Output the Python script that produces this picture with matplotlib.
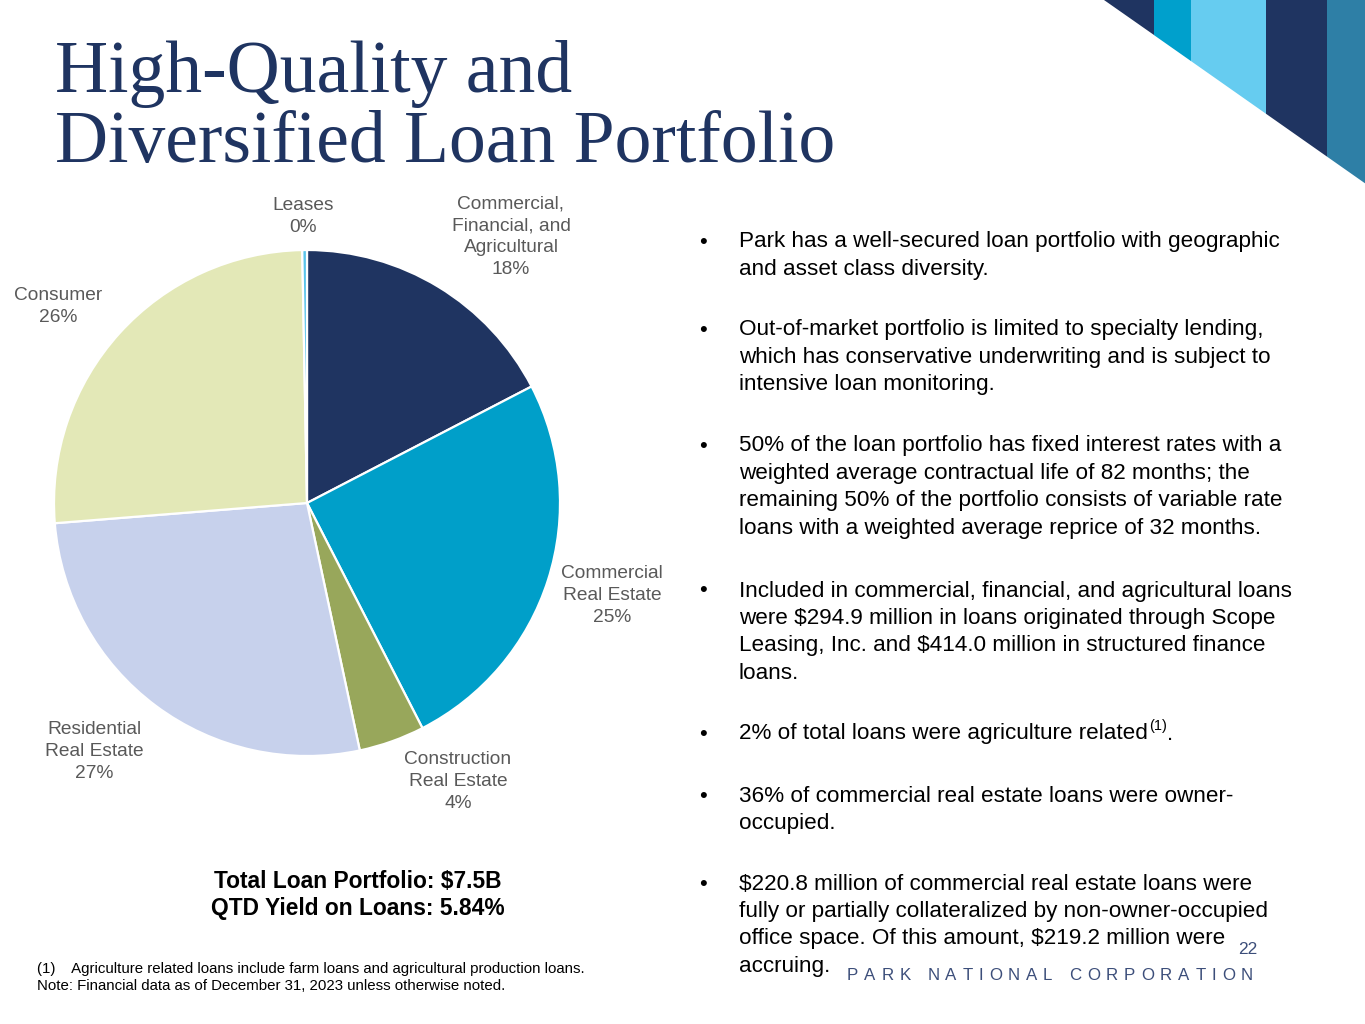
import matplotlib
matplotlib.use("Agg")
import matplotlib.pyplot as plt
from matplotlib.patches import Polygon

W, H = 1365, 1024

# ---------------- data ----------------
categories = ["Commercial, Financial, and Agricultural", "Commercial Real Estate",
              "Construction Real Estate", "Residential Real Estate", "Consumer", "Leases"]
shares = [17.4, 25.1, 4.2, 27.1, 26.0, 0.3]
share_labels = ["18%", "25%", "4%", "27%", "26%", "0%"]
label_lines = [["Commercial,", "Financial, and", "Agricultural"],
               ["Commercial", "Real Estate"],
               ["Construction", "Real Estate"],
               ["Residential", "Real Estate"],
               ["Consumer"],
               ["Leases"]]
slice_colors = ["#1F3461", "#009FC9", "#98A75B", "#C7D1EC", "#E3E8B7", "#5BC5EA"]

title_lines = ["High-Quality and", "Diversified Loan Portfolio"]
bullets = [
    ["Park has a well-secured loan portfolio with geographic",
     "and asset class diversity."],
    ["Out-of-market portfolio is limited to specialty lending,",
     "which has conservative underwriting and is subject to",
     "intensive loan monitoring."],
    ["50% of the loan portfolio has fixed interest rates with a",
     "weighted average contractual life of 82 months; the",
     "remaining 50% of the portfolio consists of variable rate",
     "loans with a weighted average reprice of 32 months."],
    ["Included in commercial, financial, and agricultural loans",
     "were $294.9 million in loans originated through Scope",
     "Leasing, Inc. and $414.0 million in structured finance",
     "loans."],
    ["2% of total loans were agriculture related"],
    ["36% of commercial real estate loans were owner-",
     "occupied."],
    ["$220.8 million of commercial real estate loans were",
     "fully or partially collateralized by non-owner-occupied",
     "office space. Of this amount, $219.2 million were",
     "accruing."],
]
bullet_tops = [242, 330, 446, 591, 734, 796, 884]
summary_lines = ["Total Loan Portfolio: $7.5B", "QTD Yield on Loans: 5.84%"]
footnotes = ["(1)    Agriculture related loans include farm loans and agricultural production loans.",
             "Note: Financial data as of December 31, 2023 unless otherwise noted."]
company = "PARK NATIONAL CORPORATION"
page_number = "22"

NAVY = "#1F3461"
FOOT = "#3C4E7A"
SANS = "Liberation Sans"

fig = plt.figure(figsize=(W / 100, H / 100), dpi=100)
fig.patch.set_facecolor("white")


def P(x, y):
    return x / W, 1 - y / H


# ---------------- decoration (top right) ----------------
deco = fig.add_axes([0, 0, 1, 1], zorder=0)
deco.set_xlim(0, W)
deco.set_ylim(H, 0)
deco.axis("off")
stripes = [(1100, 1154, "#1F3461"), (1154, 1191, "#00A0CC"), (1191, 1266, "#66CCF0"),
           (1266, 1327, "#1F3461"), (1327, 1366, "#2E7FA6")]
x0, y0, x1, y1 = 1104, 0, 1366, 184
slope = (y1 - y0) / (x1 - x0)
for a, b, c in stripes:
    ya = max(0, (a - x0) * slope)
    yb = max(0, (b - x0) * slope)
    pts = [(a, 0), (b, 0), (b, yb), (a, ya)]
    if a < x0 < b:
        pts = [(x0, 0), (b, 0), (b, yb)]
    deco.add_patch(Polygon(pts, closed=True, color=c, lw=0))

# ---------------- title ----------------
for i, line in enumerate(title_lines):
    fig.text(*P(55, 92 + 70 * i), line, fontsize=53, family="Liberation Serif",
             color=NAVY, va="baseline", ha="left")

# ---------------- pie ----------------
cx, cy, r = 307, 503, 253
ax = fig.add_axes([(cx - r) / W, 1 - (cy + r) / H, 2 * r / W, 2 * r / H], zorder=2)
ax.pie(shares, colors=slice_colors, startangle=90, counterclock=False, radius=1,
       wedgeprops=dict(edgecolor="white", linewidth=1.6))
ax.set_xlim(-1, 1)
ax.set_ylim(-1, 1)
ax.set_aspect("equal")
ax.axis("off")

label_pos = [(511, 204), (612, 573), (458, 760), (94, 730), (58, 295), (303, 205)]
for lines, pct, (lx, ly) in zip(label_lines, share_labels, label_pos):
    for j, t in enumerate(lines + [pct]):
        fig.text(*P(lx, ly + 22 * j), t, fontsize=13.8, family=SANS, color="#595959",
                 ha="center", va="center")

# ---------------- bullets ----------------
fig.canvas.draw()
renderer = fig.canvas.get_renderer()
for lines, top in zip(bullets, bullet_tops):
    fig.text(*P(703, top), "•", fontsize=16, family=SANS, color="black", ha="center", va="center")
    for j, t in enumerate(lines):
        txt = fig.text(*P(739, top + 27.4 * j), t, fontsize=16.2, family=SANS,
                       color="black", ha="left", va="center")
    if len(lines) == 1 and lines[0].endswith("related"):
        bb = txt.get_window_extent(renderer)
        sx = bb.x1 + 1
        sup = fig.text(sx / W, (H - top + 8) / H, "(1)", fontsize=10.5, family=SANS,
                       color="black", ha="left", va="center")
        bb2 = sup.get_window_extent(renderer)
        fig.text(bb2.x1 / W, 1 - top / H, ".", fontsize=16.2, family=SANS,
                 color="black", ha="left", va="center")

# ---------------- summary ----------------
for j, t in enumerate(summary_lines):
    fig.text(*P(358, 882 + 26 * j), t, fontsize=16.4, family=SANS, weight="bold",
             color="black", ha="center", va="center")

# ---------------- footnotes ----------------
for j, t in enumerate(footnotes):
    fig.text(*P(37, 969 + 17 * j), t, fontsize=10.8, family=SANS, color="black",
             ha="left", va="center")

# ---------------- footer ----------------
fig.text(*P(1257, 949), page_number, fontsize=12.5, family=SANS, color=FOOT,
         ha="right", va="center")
# letter-spaced company name spanning x = 847 .. 1253
chars = list(company)
widths = []
for ch in chars:
    if ch == " ":
        t = fig.text(0, 0, "a a", fontsize=12.2, family=SANS)
        t2 = fig.text(0, 0, "aa", fontsize=12.2, family=SANS)
        w = t.get_window_extent(renderer).width - t2.get_window_extent(renderer).width
        t.remove(); t2.remove()
    else:
        t = fig.text(0, 0, ch, fontsize=12.2, family=SANS)
        w = t.get_window_extent(renderer).width
        t.remove()
    widths.append(w)
left, right = 847, 1253
track = (right - left - sum(widths)) / (len(chars) - 1)
x = left
for ch, w in zip(chars, widths):
    if ch != " ":
        fig.text(*P(x, 976), ch, fontsize=12.2, family=SANS, color=FOOT, ha="left", va="center")
    x += w + track

fig.savefig("out.png", dpi=100, facecolor="white")
